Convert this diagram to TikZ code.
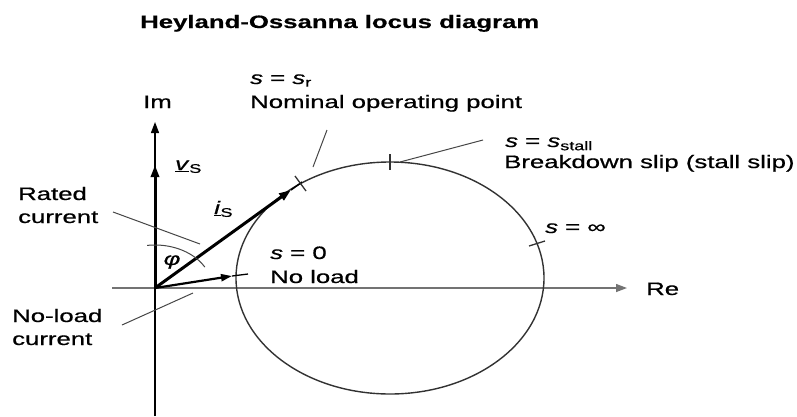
\documentclass[tikz,border=0pt]{standalone}
\usepackage{fontspec}
\usepackage{graphicx}
\setmainfont[FakeBold=0.6]{Liberation Sans}
\newfontfamily\titlefont[FakeBold=0.4]{Liberation Sans Bold}
\usetikzlibrary{arrows.meta}
\newcommand{\xs}[1]{\scalebox{1.43}[1]{#1}}
\definecolor{axisgray}{RGB}{115,115,115}
\definecolor{locusgray}{RGB}{50,50,50}
\definecolor{leadgray}{RGB}{70,70,70}
\begin{document}
\begin{tikzpicture}[x=1pt,y=-1pt,
  every node/.style={inner sep=0pt,font=\fontsize{18}{22}\selectfont},
  lbl/.style={anchor=base west},
  axisline/.style={line width=1.3pt},
  axisarrow/.style={-{Triangle[length=11pt,width=8pt]}},
  vec/.style={line width=3pt,-{Triangle[length=12pt,width=8pt]}},
  locus/.style={line width=1.4pt,draw=locusgray},
  leader/.style={line width=1pt,draw=leadgray},
  tick/.style={line width=1.3pt,draw=locusgray}]
\useasboundingbox (0,0) rectangle (797,416);

% axes
\coordinate (O) at (155,288);
\coordinate (hx0) at (112,288);
\coordinate (hx1) at (627,288);
\coordinate (vy0) at (155,416);
\coordinate (vy1) at (155,122);
\draw[axisline,draw=axisgray,fill=axisgray,axisarrow] (hx0) -- (hx1);
\draw[axisline,axisarrow] (vy0) -- (vy1);

% locus ellipse
\coordinate (C) at (390,278);
\draw[locus] (C) ellipse [x radius=154pt, y radius=116pt];

% vectors
\coordinate (vsTip) at (155,165);
\coordinate (isTip) at (291,190);
\coordinate (isEnd) at (302,182);
\coordinate (nlTip) at (232,276);
\coordinate (nlEnd) at (248,274);
\draw[line width=1.5pt] (isTip) -- (isEnd);
\draw[line width=1.3pt] (nlTip) -- (nlEnd);
\draw[vec] (O) -- (vsTip);
\draw[vec] (O) -- (isTip);
\draw[line width=2.2pt,-{Triangle[length=11pt,width=7pt]}] (O) -- (nlTip);

% phi arc
\draw[line width=1pt,draw=leadgray] plot[domain=98:29,samples=40] ({155+57*cos(\x)},{288-43*sin(\x)});

% ticks
\coordinate (tn1) at (295,176);
\coordinate (tn2) at (306,191);
\draw[tick] (tn1) -- (tn2);
\coordinate (ts1) at (390,154);
\coordinate (ts2) at (390,170);
\draw[tick] (ts1) -- (ts2);
\coordinate (ti1) at (529,246);
\coordinate (ti2) at (545,241);
\draw[tick] (ti1) -- (ti2);

% leaders
\coordinate (ln1) at (313,167);
\coordinate (ln2) at (327,130);
\draw[leader] (ln1) -- (ln2);
\coordinate (ls1) at (400,162);
\coordinate (ls2) at (483,140);
\draw[leader] (ls1) -- (ls2);
\coordinate (lr1) at (113,212);
\coordinate (lr2) at (200,244);
\draw[leader] (lr1) -- (lr2);
\coordinate (lnl1) at (122,325);
\coordinate (lnl2) at (193,293);
\draw[leader] (lnl1) -- (lnl2);

% texts
\node[lbl,font=\fontsize{18}{22}\titlefont] (title) at (140,28) {\xs{Heyland-Ossanna locus diagram}};
\node[lbl] (sr) at (250,84) {\xs{\textit{s} = \textit{s}\textsubscript{r}}};
\node[lbl] (nom) at (250,108) {\xs{Nominal operating point}};
\node[lbl] (im) at (143,108) {\xs{Im}};
\node[lbl] (sst) at (505,147) {\xs{\textit{s} = \textit{s}\textsubscript{stall}}};
\node[lbl] (brk) at (504,168) {\xs{Breakdown slip (stall slip)}};
\node[lbl] (vs) at (175,170) {\xs{\underline{\textit{v}}\textsubscript{S}}};
\node[lbl] (is) at (214,214) {\xs{\underline{\textit{i}}\textsubscript{S}}};
\node[lbl] (rated1) at (18,200) {\xs{Rated}};
\node[lbl] (rated2) at (18,223) {\xs{current}};
\node (phi) at (172,262) {\xs{\textit{φ}}};
\node[lbl] (s0) at (270,259) {\xs{\textit{s} = 0}};
\node[lbl] (nl) at (270,283) {\xs{No load}};
\node[lbl] (re) at (646,295) {\xs{Re}};
\node[lbl] (sinf) at (545,233) {\xs{\textit{s} = ∞}};
\node[lbl] (nlc1) at (12,322) {\xs{No-load}};
\node[lbl] (nlc2) at (12,345) {\xs{current}};
\end{tikzpicture}
\end{document}
